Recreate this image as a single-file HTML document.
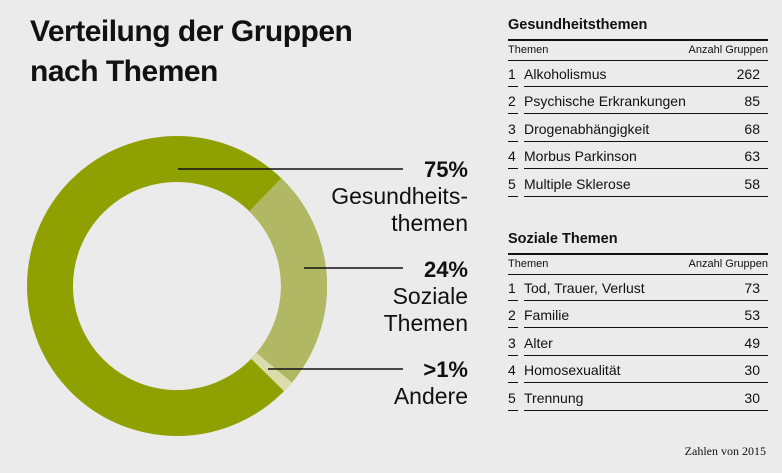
<!DOCTYPE html><html><head><meta charset="utf-8"><style>
body{margin:0;width:782px;height:473px;background:#ebebeb;font-family:"Liberation Sans","DejaVu Sans",sans-serif;color:#111;position:relative;overflow:hidden}
.a{position:absolute;white-space:nowrap}
.t{font-weight:bold;font-size:30px;left:30px;line-height:40px;letter-spacing:-0.5px}
.lbl{right:314px;text-align:right;font-size:23px;line-height:27px}
.lbl b{font-size:22px}
.tbl{position:absolute;left:508px;width:260px}
.tbl h3{margin:0;font-size:14.5px;font-weight:bold;height:22px;border-bottom:2px solid #111}
.hd{font-size:11px;display:flex;justify-content:space-between;height:19px;line-height:19px;border-bottom:1.5px solid #111}
.r{display:flex;font-size:14px;height:26px;line-height:26px;position:relative;margin-bottom:1.4px}
.r::before{content:"";position:absolute;left:0;bottom:0;width:10px;border-bottom:1.5px solid #111}
.r::after{content:"";position:absolute;left:16px;right:0;bottom:0;border-bottom:1.5px solid #111}
.r .n{width:16px}.r .v{margin-left:auto;padding-right:8px}
</style></head><body>
<div class="a t" style="top:12px">Verteilung der Gruppen<br>nach Themen</div>
<svg class="a" style="left:0;top:0" width="480" height="473">
<circle cx="177" cy="286" r="127" fill="none" stroke="#8fa100" stroke-width="46"/>
<circle cx="177" cy="286" r="127" fill="none" stroke="#b1b864" stroke-width="46" stroke-dasharray="190.6 1000" transform="rotate(-46 177 286)"/>
<circle cx="177" cy="286" r="127" fill="none" stroke="#d9dcab" stroke-width="46" stroke-dasharray="10 1000" transform="rotate(40 177 286)"/>
<line x1="178" y1="169" x2="403" y2="169" stroke="#111" stroke-width="1.5"/>
<line x1="304" y1="268" x2="403" y2="268" stroke="#111" stroke-width="1.5"/>
<line x1="268" y1="369" x2="403" y2="369" stroke="#111" stroke-width="1.5"/>
</svg>
<div class="a lbl" style="top:156px"><b>75%</b><br>Gesundheits-<br>themen</div>
<div class="a lbl" style="top:256px"><b>24%</b><br>Soziale<br>Themen</div>
<div class="a lbl" style="top:356px"><b>&gt;1%</b><br>Andere</div>
<div class="tbl" style="top:17px"><h3>Gesundheitsthemen</h3>
<div class="hd"><span>Themen</span><span>Anzahl Gruppen</span></div>
<div class="r"><span class="n">1</span>Alkoholismus<span class="v">262</span></div>
<div class="r"><span class="n">2</span>Psychische Erkrankungen<span class="v">85</span></div>
<div class="r"><span class="n">3</span>Drogenabhängigkeit<span class="v">68</span></div>
<div class="r"><span class="n">4</span>Morbus Parkinson<span class="v">63</span></div>
<div class="r"><span class="n">5</span>Multiple Sklerose<span class="v">58</span></div></div>
<div class="tbl" style="top:231px"><h3>Soziale Themen</h3>
<div class="hd"><span>Themen</span><span>Anzahl Gruppen</span></div>
<div class="r"><span class="n">1</span>Tod, Trauer, Verlust<span class="v">73</span></div>
<div class="r"><span class="n">2</span>Familie<span class="v">53</span></div>
<div class="r"><span class="n">3</span>Alter<span class="v">49</span></div>
<div class="r"><span class="n">4</span>Homosexualität<span class="v">30</span></div>
<div class="r"><span class="n">5</span>Trennung<span class="v">30</span></div></div>
<div class="a" style="right:16px;top:444px;font-family:'Liberation Serif',serif;font-size:12px">Zahlen von 2015</div>
</body></html>
